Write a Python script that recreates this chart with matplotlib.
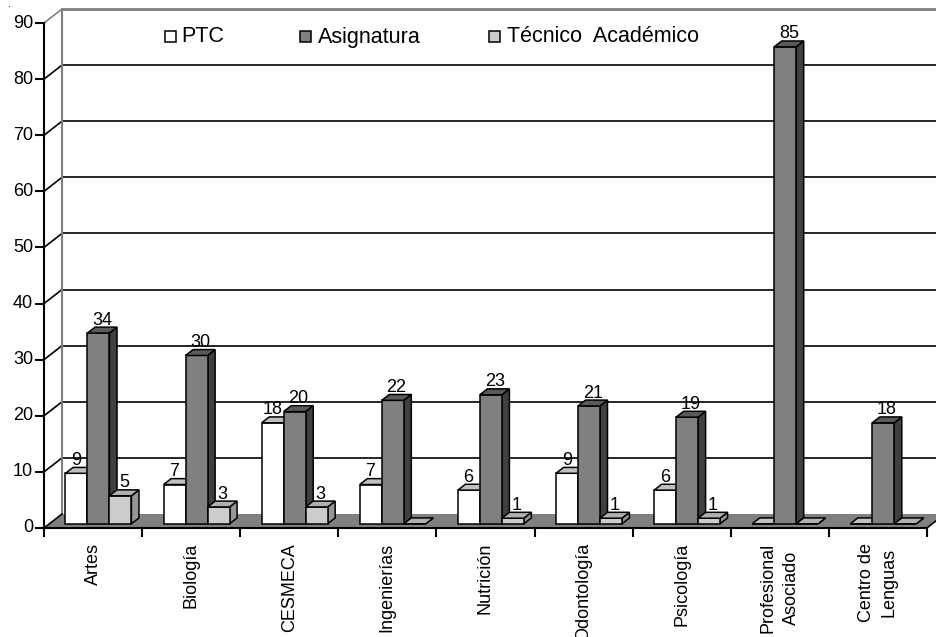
import numpy as np
import matplotlib
matplotlib.use("Agg")
import matplotlib.pyplot as plt
from matplotlib.patches import Polygon, Rectangle

plt.rcParams['font.family'] = ['Liberation Sans', 'DejaVu Sans']
plt.rcParams['font.size'] = 13

# datos
categorias = ["Artes", "Biología", "CESMECA", "Ingenierías", "Nutrición",
              "Odontología", "Psicología", "Profesional\nAsociado", "Centro de\nLenguas"]
series = ["PTC", "Asignatura", "Técnico  Académico"]
ptc = [9, 7, 18, 7, 6, 9, 6, 0, 0]
asignatura = [34, 30, 20, 22, 23, 21, 19, 85, 18]
tecnico = [5, 3, 3, 0, 1, 1, 1, 0, 0]
yticks = [0, 10, 20, 30, 40, 50, 60, 70, 80, 90]

# colores (frente, arriba, lado)
colores = [("#ffffff", "#c0c0c0", "#c0c0c0"),
           ("#808080", "#5a5a5a", "#404040"),
           ("#cccccc", "#b0b0b0", "#969696")]

W, H = 936, 637
px_x = 98.1     # pixeles por categoria
px_y = 5.611    # pixeles por unidad
x0px, y0px = 44, 528
DX = 18 / px_x  # profundidad 3D
DY = 14 / px_y

fig = plt.figure(figsize=(W / 100, H / 100), dpi=100)
ax = fig.add_axes([0, 0, 1, 1])
ax.set_xlim(-x0px / px_x, (W - x0px) / px_x)
ax.set_ylim(-(H - y0px) / px_y, 90 + (y0px - 90 * px_y) / px_y)
ax.axis("off")

xmax = (W - x0px) / px_x + 1

# pared del fondo
for v in yticks[1:-1]:
    ax.plot([DX, xmax], [v + DY, v + DY], color="black", lw=1.2, zorder=1)
    ax.plot([0, DX], [v, v + DY], color="black", lw=1.2, zorder=1)
ax.plot([DX, xmax], [90 + DY, 90 + DY], color="#808080", lw=2, zorder=1)
ax.plot([0, DX], [90, 90 + DY], color="#808080", lw=1.2, zorder=1)
ax.plot([DX, DX], [DY, 90 + DY], color="#808080", lw=1.5, zorder=1)

# piso
n = len(categorias)
ax.add_patch(Polygon([(0, 0), (n, 0), (n + DX, DY), (DX, DY)], closed=True,
                     facecolor="#808080", edgecolor="none", zorder=2))
ax.plot([n, n + DX], [0, DY], color="black", lw=1.2, zorder=2)
ax.plot([0, DX], [0, DY], color="black", lw=1.2, zorder=2)

# eje y
ax.plot([0, 0], [0, 90], color="black", lw=1.5, zorder=3)
for v in yticks:
    ax.plot([-8 / px_x, 0], [v, v], color="black", lw=1.5, zorder=3)
    ax.text(-11 / px_x, v, str(v), ha="right", va="center")

# eje x
ax.plot([0, n], [0, 0], color="black", lw=1.5, zorder=3)
for i in range(n + 1):
    ax.plot([i, i], [0, -8 / px_y], color="black", lw=1.5, zorder=3)
for i, c in enumerate(categorias):
    ax.text(i + 0.5, -15 / px_y, c, rotation=90, ha="center", va="top",
            multialignment="center", linespacing=1.45)

# punto suelto arriba a la izquierda
fig.text(8 / W, 1 - 7 / H, ".", fontsize=8, va="baseline")

# barras 3D
w = 0.224
d0, d = 0.3, 0.42
datos = [ptc, asignatura, tecnico]
lab_dx = [-4, 0, 0]  # corrimiento de etiquetas por serie (px)
for i in range(n):
    for j, vals in enumerate(datos):
        v = vals[i]
        fc, tc, sc = colores[j]
        x0 = i + 0.5 - 1.5 * w + j * w + d0 * DX
        y0 = d0 * DY
        ex, ey = d * DX, d * DY
        front = [(x0, y0), (x0 + w, y0), (x0 + w, y0 + v), (x0, y0 + v)]
        top = [(x0, y0 + v), (x0 + w, y0 + v), (x0 + w + ex, y0 + v + ey), (x0 + ex, y0 + v + ey)]
        side = [(x0 + w, y0), (x0 + w + ex, y0 + ey), (x0 + w + ex, y0 + v + ey), (x0 + w, y0 + v)]
        z = 4 + i * 0.01 + j * 0.001
        for pts, col in [(side, sc), (front, fc), (top, tc)]:
            ax.add_patch(Polygon(pts, closed=True, facecolor=col, edgecolor="black",
                                 lw=1.1, joinstyle="miter", zorder=z))
        if v > 0:
            ax.text(x0 + w / 2 + ex / 2 + lab_dx[j] / px_x, y0 + v + ey + 2.5 / px_y, str(v),
                    ha="center", va="baseline", zorder=10)

# leyenda
ly = 37
leg = [(165, 181), (300, 318), (489, 507)]
for (sx, tx), s, (fc, _, _) in zip(leg, series, colores):
    ax.add_patch(Rectangle((sx / 100, (H - ly - 5) / 100), 0.105, 0.105,
                           transform=fig.dpi_scale_trans, facecolor=fc,
                           edgecolor="black", lw=1.1, zorder=10))
    fig.text(tx / W, 1 - ly / H, s, ha="left", va="center", fontsize=15.5)

fig.savefig("out.png", dpi=100)
